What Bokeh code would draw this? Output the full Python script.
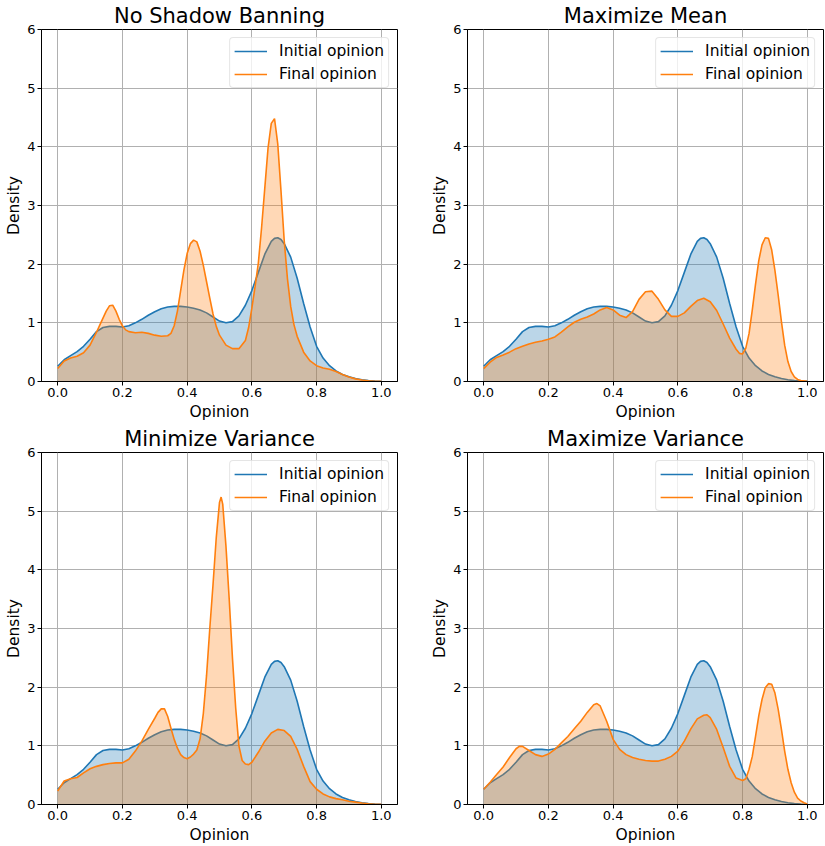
from bokeh.plotting import figure
from bokeh.layouts import column, row
from bokeh.models import FixedTicker, NumeralTickFormatter, Range1d, Legend, LegendItem
from bokeh.embed import file_html
from bokeh.resources import INLINE

# ---------------- data ----------------
titles = ["No Shadow Banning", "Maximize Mean", "Minimize Variance", "Maximize Variance"]
series_labels = ["Initial opinion", "Final opinion"]
x_ticks = [0.0, 0.2, 0.4, 0.6, 0.8, 1.0]
y_ticks = [0, 1, 2, 3, 4, 5, 6]

# initial opinion density (same in all four panels)
x_initial = [0.00, 0.02, 0.04, 0.06, 0.08, 0.10, 0.12, 0.14, 0.16, 0.18, 0.20, 0.22, 0.24,
             0.26, 0.28, 0.30, 0.32, 0.34, 0.36, 0.38, 0.40, 0.42, 0.44, 0.46, 0.48, 0.50,
             0.52, 0.54, 0.56, 0.58, 0.60, 0.62, 0.64, 0.66, 0.67, 0.68, 0.69, 0.70, 0.72,
             0.74, 0.76, 0.78, 0.80, 0.82, 0.84, 0.86, 0.88, 0.90, 0.92, 0.94, 0.96, 0.98, 1.00]
y_initial = [0.26, 0.37, 0.44, 0.51, 0.60, 0.72, 0.85, 0.92, 0.94, 0.94, 0.93, 0.95, 1.00,
             1.06, 1.13, 1.19, 1.24, 1.27, 1.28, 1.28, 1.27, 1.25, 1.22, 1.17, 1.10, 1.03,
             1.00, 1.02, 1.12, 1.30, 1.55, 1.86, 2.17, 2.39, 2.44, 2.45, 2.42, 2.35, 2.12,
             1.76, 1.33, 0.93, 0.60, 0.40, 0.27, 0.18, 0.12, 0.08, 0.05, 0.03, 0.015, 0.007, 0.003]

# final opinion: No Shadow Banning
x_final_nsb = [0.00, 0.02, 0.04, 0.06, 0.08, 0.10, 0.12, 0.13, 0.14, 0.15, 0.16, 0.17, 0.18,
               0.19, 0.20, 0.21, 0.22, 0.24, 0.26, 0.28, 0.30, 0.32, 0.34, 0.35, 0.36, 0.37,
               0.38, 0.39, 0.40, 0.41, 0.42, 0.43, 0.44, 0.45, 0.46, 0.47, 0.48, 0.49, 0.50,
               0.52, 0.54, 0.56, 0.58, 0.59, 0.60, 0.61, 0.62, 0.63, 0.64, 0.65, 0.66, 0.67,
               0.68, 0.69, 0.70, 0.71, 0.72, 0.73, 0.74, 0.76, 0.78, 0.80, 0.82, 0.84, 0.86,
               0.88, 0.90, 0.92, 0.94, 0.96, 0.98, 1.00]
y_final_nsb = [0.22, 0.35, 0.40, 0.43, 0.49, 0.62, 0.84, 0.96, 1.08, 1.20, 1.29, 1.30, 1.20,
               1.06, 0.95, 0.88, 0.85, 0.83, 0.84, 0.82, 0.79, 0.77, 0.78, 0.82, 0.95, 1.20,
               1.55, 1.90, 2.18, 2.35, 2.41, 2.38, 2.22, 1.98, 1.70, 1.42, 1.15, 0.94, 0.79,
               0.62, 0.56, 0.56, 0.70, 0.92, 1.25, 1.62, 2.02, 2.62, 3.30, 3.98, 4.40, 4.48,
               4.05, 3.25, 2.40, 1.75, 1.28, 0.97, 0.77, 0.50, 0.35, 0.27, 0.23, 0.21, 0.17,
               0.12, 0.075, 0.045, 0.025, 0.012, 0.005, 0.002]

# final opinion: Maximize Mean
x_final_mm = [0.00, 0.02, 0.04, 0.06, 0.08, 0.10, 0.12, 0.14, 0.16, 0.18, 0.20, 0.22, 0.24,
              0.26, 0.28, 0.30, 0.32, 0.34, 0.36, 0.38, 0.40, 0.42, 0.44, 0.46, 0.48, 0.50,
              0.52, 0.54, 0.56, 0.58, 0.60, 0.62, 0.64, 0.66, 0.68, 0.70, 0.72, 0.74, 0.76,
              0.78, 0.79, 0.80, 0.81, 0.82, 0.83, 0.84, 0.85, 0.86, 0.87, 0.88, 0.89, 0.90,
              0.91, 0.92, 0.93, 0.94, 0.95, 0.96, 0.97, 0.98, 1.00]
y_final_mm = [0.22, 0.33, 0.41, 0.45, 0.50, 0.56, 0.60, 0.64, 0.67, 0.69, 0.72, 0.76, 0.84,
              0.93, 1.01, 1.06, 1.10, 1.15, 1.22, 1.26, 1.22, 1.13, 1.09, 1.19, 1.40, 1.53,
              1.54, 1.40, 1.22, 1.11, 1.11, 1.17, 1.28, 1.38, 1.42, 1.36, 1.21, 0.98, 0.74,
              0.55, 0.48, 0.47, 0.57, 0.82, 1.22, 1.66, 2.06, 2.33, 2.45, 2.44, 2.24, 1.89,
              1.47, 1.02, 0.62, 0.34, 0.17, 0.08, 0.035, 0.015, 0.003]

# final opinion: Minimize Variance
x_final_minv = [0.00, 0.02, 0.04, 0.06, 0.08, 0.10, 0.12, 0.14, 0.16, 0.18, 0.20, 0.22, 0.24,
                0.26, 0.28, 0.30, 0.31, 0.32, 0.33, 0.34, 0.35, 0.36, 0.37, 0.38, 0.39, 0.40,
                0.41, 0.42, 0.43, 0.44, 0.45, 0.46, 0.47, 0.48, 0.49, 0.50, 0.505, 0.51, 0.52,
                0.53, 0.54, 0.55, 0.56, 0.57, 0.58, 0.59, 0.60, 0.62, 0.64, 0.66, 0.68, 0.70,
                0.72, 0.74, 0.76, 0.78, 0.80, 0.82, 0.84, 0.86, 0.88, 0.90, 0.92, 0.94, 0.96,
                0.98, 1.00]
y_final_minv = [0.23, 0.40, 0.44, 0.46, 0.54, 0.61, 0.65, 0.68, 0.70, 0.71, 0.71, 0.77, 0.91,
                1.08, 1.28, 1.47, 1.57, 1.63, 1.63, 1.50, 1.30, 1.11, 0.96, 0.85, 0.80, 0.78,
                0.81, 0.86, 0.93, 1.12, 1.55, 2.20, 3.00, 3.75, 4.55, 5.15, 5.24, 5.12, 4.40,
                3.50, 2.50, 1.65, 1.00, 0.75, 0.69, 0.68, 0.72, 0.89, 1.08, 1.22, 1.28, 1.26,
                1.16, 0.94, 0.65, 0.39, 0.26, 0.18, 0.13, 0.10, 0.08, 0.055, 0.04, 0.025, 0.012,
                0.005, 0.002]

# final opinion: Maximize Variance
x_final_maxv = [0.00, 0.02, 0.04, 0.06, 0.08, 0.10, 0.11, 0.12, 0.14, 0.16, 0.18, 0.20, 0.22,
                0.24, 0.26, 0.28, 0.30, 0.32, 0.34, 0.35, 0.36, 0.38, 0.40, 0.42, 0.44, 0.46,
                0.48, 0.50, 0.52, 0.54, 0.56, 0.58, 0.60, 0.62, 0.64, 0.66, 0.68, 0.69, 0.70,
                0.72, 0.74, 0.76, 0.78, 0.80, 0.81, 0.82, 0.83, 0.84, 0.85, 0.86, 0.87, 0.88,
                0.89, 0.90, 0.91, 0.92, 0.93, 0.94, 0.95, 0.96, 0.97, 0.98, 0.99, 1.00]
y_final_maxv = [0.26, 0.38, 0.51, 0.64, 0.80, 0.95, 0.99, 0.99, 0.92, 0.85, 0.82, 0.86, 0.94,
                1.05, 1.16, 1.29, 1.42, 1.57, 1.70, 1.72, 1.68, 1.42, 1.11, 0.94, 0.85, 0.80,
                0.77, 0.75, 0.74, 0.74, 0.77, 0.82, 0.91, 1.08, 1.29, 1.46, 1.52, 1.53, 1.48,
                1.28, 0.97, 0.65, 0.45, 0.41, 0.44, 0.60, 0.82, 1.16, 1.51, 1.79, 1.99, 2.06,
                2.05, 1.90, 1.62, 1.28, 0.91, 0.60, 0.37, 0.21, 0.11, 0.06, 0.03, 0.01]

finals = [(x_final_nsb, y_final_nsb), (x_final_mm, y_final_mm),
          (x_final_minv, y_final_minv), (x_final_maxv, y_final_maxv)]

# ---------------- styling ----------------
BLUE = "#1f77b4"
ORANGE = "#ff7f0e"
FONT = "DejaVu Sans"


def make_panel(title, xf, yf, width, border_left, border_right):
    p = figure(width=width, height=423,
               x_range=Range1d(-0.05, 1.05), y_range=Range1d(0, 6),
               output_backend="svg", toolbar_location=None,
               min_border_left=border_left, min_border_right=border_right,
               min_border_top=29, min_border_bottom=42)
    p.title.text = title
    p.title.align = "center"
    p.title.text_font = FONT
    p.title.text_font_size = "21px"
    p.title.text_font_style = "normal"
    p.title.text_color = "black"
    p.title.standoff = 3

    p.outline_line_color = "black"
    p.outline_line_width = 1
    p.outline_line_alpha = 1

    p.xaxis.ticker = FixedTicker(ticks=x_ticks)
    p.xaxis.formatter = NumeralTickFormatter(format="0.0")
    p.yaxis.ticker = FixedTicker(ticks=y_ticks)
    p.yaxis.formatter = NumeralTickFormatter(format="0")
    p.xaxis.axis_label = "Opinion"
    p.yaxis.axis_label = "Density"
    for ax in (p.xaxis[0], p.yaxis[0]):
        ax.axis_label_text_font = FONT
        ax.axis_label_text_font_size = "15.5px"
        ax.axis_label_text_font_style = "normal"
        ax.axis_label_text_color = "black"
        ax.major_label_text_font = FONT
        ax.major_label_text_font_size = "13px"
        ax.major_label_text_color = "black"
        ax.major_tick_out = 4
        ax.major_tick_in = 0
        ax.minor_tick_out = 0
        ax.minor_tick_in = 0
        ax.major_tick_line_color = "black"
        ax.axis_line_color = "black"
        ax.major_label_standoff = 2
        ax.axis_label_standoff = 3
    p.yaxis[0].axis_label_standoff = 1

    for g in (p.xgrid[0], p.ygrid[0]):
        g.grid_line_color = "#b0b0b0"
        g.grid_line_width = 1

    p.varea(x=x_initial, y1=0, y2=y_initial, fill_color=BLUE, fill_alpha=0.3)
    l1 = p.line(x_initial, y_initial, line_color=BLUE, line_width=1.6)
    p.varea(x=xf, y1=0, y2=yf, fill_color=ORANGE, fill_alpha=0.3)
    l2 = p.line(xf, yf, line_color=ORANGE, line_width=1.6)

    legend = Legend(items=[LegendItem(label=series_labels[0], renderers=[l1]),
                           LegendItem(label=series_labels[1], renderers=[l2])],
                    location="top_right", margin=8, padding=4, spacing=5,
                    label_height=18, glyph_height=18, glyph_width=33, label_standoff=12,
                    label_text_font=FONT, label_text_font_size="15.5px",
                    label_text_color="black", border_line_color="#cccccc",
                    border_line_width=1, background_fill_alpha=0.8)
    if "border_radius" in Legend.properties():
        legend.border_radius = 4
    p.add_layout(legend)
    return p


panels = []
for i, (t, (xf, yf)) in enumerate(zip(titles, finals)):
    if i % 2 == 0:
        panels.append(make_panel(t, xf, yf, 426, 41, 29))
    else:
        panels.append(make_panel(t, xf, yf, 399, 41, 2))

layout = column(row(panels[0], panels[1]), row(panels[2], panels[3]))
open("out.html", "w").write(file_html(layout, INLINE, "Opinion densities"))
